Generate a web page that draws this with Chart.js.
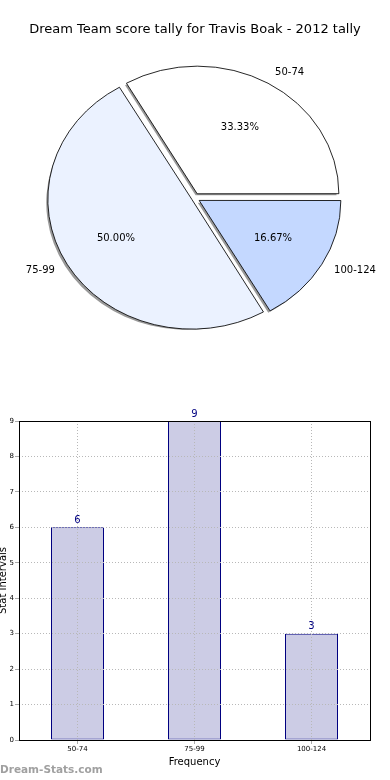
<!DOCTYPE html>
<html>
<head>
<meta charset="utf-8">
<script src="https://cdn.jsdelivr.net/npm/chart.js@4/dist/chart.umd.min.js"></script>
<style>
html,body{margin:0;padding:0;background:#fff;}
#wrap{position:relative;width:390px;height:780px;overflow:hidden;}
#pie{position:absolute;left:0;top:0;}
#bar{position:absolute;left:0;top:360px;}
</style>
</head>
<body>
<div id="wrap">
<canvas id="pie" width="390" height="360"></canvas>
<canvas id="bar" width="390" height="420"></canvas>
</div>
<script>
// ---- data ----
const titleText = 'Dream Team score tally for Travis Boak - 2012 tally';
const categories = ['50-74', '75-99', '100-124'];
const counts = [6, 9, 3];
const pieColors = ['#ffffff', '#ebf2ff', '#c4d8ff'];
const yTicks = [0, 1, 2, 3, 4, 5, 6, 7, 8, 9];
const xTitle = 'Frequency';
const yTitle = 'Stat Intervals';
const watermark = 'Dream-Stats.com';

const FONT = '"DejaVu Sans", sans-serif';
const SX = 1.11;     // horizontal stretch of the pie (ellipse)
const EXPLODE = 5.5; // real slice displacement in px

// pie drawn counter-clockwise from east, as in the original => reverse for Chart.js (clockwise)
const pieLabels = categories.slice().reverse();
const pieData = counts.slice().reverse();
const pieBg = pieColors.slice().reverse();
const total = counts.reduce((a, b) => a + b, 0);

// Chart.js arc translates by offset/4*(2-sin(min(PI,circ))); invert so the real shift is EXPLODE
function arcOffsetFor(value) {
  const circ = value / total * 2 * Math.PI;
  return EXPLODE * 4 / (2 - Math.sin(Math.min(Math.PI, circ)));
}

const ellipsePlugin = {
  id: 'ellipse',
  beforeDatasetsDraw(chart) {
    const ctx = chart.ctx;
    const meta = chart.getDatasetMeta(0);
    const a0 = meta.data[0];
    const cx = a0.x, cy = a0.y;
    ctx.save();
    ctx.translate(cx, cy); ctx.scale(SX, 1); ctx.translate(-cx, -cy);
    // shadows
    ctx.fillStyle = 'rgba(0,0,0,0.4)';
    meta.data.forEach(arc => {
      const mid = (arc.startAngle + arc.endAngle) / 2;
      const ox = arc.x + Math.cos(mid) * EXPLODE - 2 / SX;
      const oy = arc.y + Math.sin(mid) * EXPLODE + 2;
      ctx.beginPath();
      ctx.moveTo(ox, oy);
      ctx.arc(ox, oy, arc.outerRadius, arc.startAngle, arc.endAngle);
      ctx.closePath();
      ctx.fill();
    });
  },
  afterDatasetsDraw(chart) {
    chart.ctx.restore();
  },
  afterDraw(chart) {
    const ctx = chart.ctx;
    const meta = chart.getDatasetMeta(0);
    ctx.save();
    ctx.fillStyle = '#000';
    ctx.font = '13px ' + FONT;
    ctx.textAlign = 'center';
    ctx.textBaseline = 'middle';
    ctx.fillText(titleText, 195, 30);
    ctx.font = '10px ' + FONT;
    meta.data.forEach((arc, i) => {
      const mid = (arc.startAngle + arc.endAngle) / 2;
      const r = arc.outerRadius;
      const c = Math.cos(mid), s = Math.sin(mid);
      const bx = arc.x + c * EXPLODE * SX, by = arc.y + s * EXPLODE;
      const lx = bx + c * r * 1.1 * SX, ly = by + s * r * 1.1;
      ctx.textAlign = c >= 0 ? 'left' : 'right';
      ctx.fillText(pieLabels[i], lx, ly);
      const px = bx + c * r * 0.6 * SX, py = by + s * r * 0.6;
      ctx.textAlign = 'center';
      ctx.fillText((pieData[i] / total * 100).toFixed(2) + '%', px, py);
    });
    ctx.restore();
  }
};

new Chart(document.getElementById('pie'), {
  type: 'pie',
  data: {
    labels: pieLabels,
    datasets: [{
      data: pieData,
      backgroundColor: pieBg,
      borderColor: '#000',
      borderWidth: 0.8,
      offset: (c) => arcOffsetFor(pieData[c.dataIndex]),
      hoverOffset: 0
    }]
  },
  options: {
    responsive: false,
    animation: false,
    events: [],
    rotation: 90,
    radius: 127,
    layout: { padding: { left: 0, right: 1, top: 36, bottom: 0 } },
    plugins: { legend: { display: false }, tooltip: { enabled: false }, title: { display: false } }
  },
  plugins: [ellipsePlugin]
});

const barPlugin = {
  id: 'barExtras',
  afterDraw(chart) {
    const ctx = chart.ctx;
    const a = chart.chartArea;
    ctx.save();
    ctx.strokeStyle = '#000';
    ctx.lineWidth = 1;
    ctx.strokeRect(Math.round(a.left) + 0.5, Math.round(a.top) + 0.5, Math.round(a.right - a.left), Math.round(a.bottom - a.top));
    const meta = chart.getDatasetMeta(0);
    ctx.fillStyle = '#000080';
    ctx.font = '10px ' + FONT;
    ctx.textAlign = 'center';
    ctx.textBaseline = 'bottom';
    meta.data.forEach((bar, i) => {
      ctx.fillText(String(counts[i]), bar.x, bar.y - 2);
    });
    ctx.fillStyle = '#a0a0a0';
    ctx.font = 'bold 10.5px ' + FONT;
    ctx.textAlign = 'left';
    ctx.textBaseline = 'middle';
    ctx.fillText(watermark, 0, 410);
    ctx.restore();
  }
};

new Chart(document.getElementById('bar'), {
  type: 'bar',
  data: {
    labels: categories,
    datasets: [{
      data: counts,
      backgroundColor: '#ccccE5',
      borderColor: '#000080',
      borderWidth: 1,
      borderSkipped: false,
      categoryPercentage: 1,
      barPercentage: 53 / 117
    }]
  },
  options: {
    responsive: false,
    animation: false,
    events: [],
    layout: { padding: { left: 0, right: 20, top: 61, bottom: 12 } },
    plugins: { legend: { display: false }, tooltip: { enabled: false }, title: { display: false } },
    scales: {
      x: {
        offset: true,
        grid: { offset: false, z: 1, color: '#b8b8b8', tickLength: 4, tickBorderDash: [], tickColor: '#aaa' },
        border: { display: false, dash: [1, 2] },
        ticks: { font: { family: FONT, size: 7 }, color: '#000', padding: 1, maxRotation: 0 },
        title: { display: true, text: xTitle, font: { family: FONT, size: 10 }, color: '#000', padding: { top: 2, bottom: 0 } },
        afterFit(scale) { scale.height = 28; }
      },
      y: {
        min: 0, max: 9,
        afterBuildTicks(scale) { scale.ticks = yTicks.map(v => ({ value: v })); },
        grid: { z: 1, color: '#b8b8b8', tickLength: 4, tickBorderDash: [], tickColor: '#aaa' },
        border: { display: false, dash: [1, 2] },
        ticks: { font: { family: FONT, size: 7 }, color: '#000', padding: 1 },
        title: { display: true, text: yTitle, font: { family: FONT, size: 10 }, color: '#000', padding: { top: -3, bottom: 0 } },
        afterFit(scale) { scale.width = 19; }
      }
    }
  },
  plugins: [barPlugin]
});
</script>
</body>
</html>
